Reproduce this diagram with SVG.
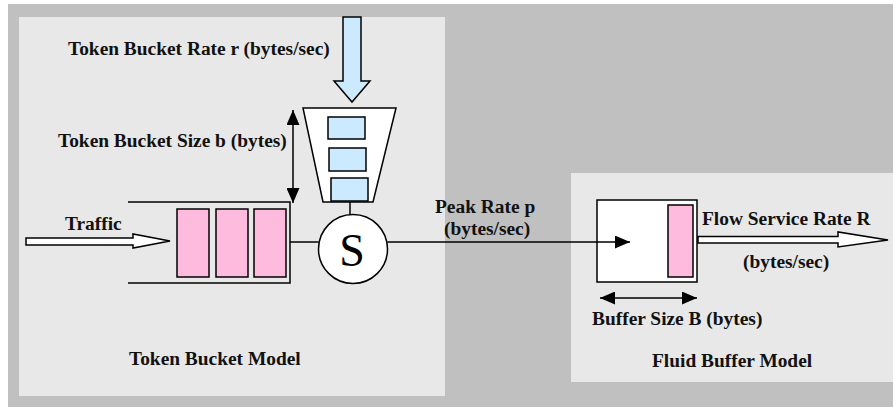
<svg xmlns="http://www.w3.org/2000/svg" width="893" height="407" viewBox="0 0 893 407">
<defs>
<style>
.t{font-family:"Liberation Serif","Times New Roman",serif;font-weight:bold;font-size:19.4px;fill:#111}
.ln{stroke:#000;stroke-width:1.5;fill:none}
.blue{fill:#cceaff;stroke:#000;stroke-width:1.5}
.pink{fill:#ffbbdd;stroke:#000;stroke-width:1.5}
.wh{fill:#fff;stroke:#000;stroke-width:1.5}
</style>
<marker id="ah" viewBox="0 0 15 13" refX="15" refY="6.5" markerWidth="15" markerHeight="13" markerUnits="userSpaceOnUse" orient="auto-start-reverse">
<path d="M0,0 L15,6.5 L0,13 Z" fill="#000"/>
</marker>
</defs>
<rect x="0" y="0" width="893" height="407" fill="#fff"/>
<rect x="8" y="4" width="885" height="403" fill="#c0c0c0"/>
<rect id="tokenPanel" x="19" y="17" width="426" height="379" fill="#e8e8e8"/>
<rect id="fluidPanel" x="571" y="173" width="322" height="209" fill="#e8e8e8"/>

<g id="rateArrow">
<path class="blue" d="M343,17 L361,17 L361,81 L370,81 L352,102 L334,81 L343,81 Z"/>
</g>
<g id="bucket">
<path class="wh" d="M303,108 L396,108 L373,202 L323,202 Z"/>
<rect class="blue" x="328" y="117" width="37" height="22"/>
<rect class="blue" x="329" y="148" width="37" height="23"/>
<rect class="blue" x="331" y="178" width="37" height="23"/>
</g>
<g id="queue">
<path class="ln" d="M128,202 L290,202 L290,283 L128,283"/>
<rect class="pink" x="177" y="209" width="32" height="68"/>
<rect class="pink" x="216" y="209" width="32" height="68"/>
<rect class="pink" x="254" y="209" width="32" height="68"/>
</g>
<g id="scheduler">
<circle class="wh" cx="353" cy="249" r="34.5"/>
<text x="352" y="266" text-anchor="middle" style="font-family:'Liberation Serif','Times New Roman',serif;font-size:46px;fill:#000">S</text>
</g>
<g id="fluidBuffer">
<rect class="wh" x="597" y="200" width="100" height="82"/>
<rect class="pink" x="668" y="205" width="25" height="72"/>
</g>
<g id="trafficArrow">
<path class="wh" d="M26,238 L133,238 L133,234 L170,241 L133,248 L133,245 L26,245 Z"/>
</g>
<g id="serviceArrow">
<path class="wh" d="M698,236.5 L838,236.5 L838,232 L888,240 L838,247 L838,243 L698,243 Z"/>
</g>

<g id="connectors">
<line class="ln" x1="350" y1="202" x2="350" y2="215"/>
<line class="ln" x1="290" y1="242" x2="318.5" y2="242"/>
<line class="ln" x1="387.5" y1="242" x2="630" y2="242" marker-end="url(#ah)"/>
<line class="ln" x1="293" y1="110" x2="293" y2="203" marker-start="url(#ah)" marker-end="url(#ah)"/>
<line class="ln" x1="600" y1="298" x2="697" y2="298" marker-start="url(#ah)" marker-end="url(#ah)"/>
</g>

<g id="labels">
<text class="t" x="68" y="55">Token Bucket Rate r (bytes/sec)</text>
<text class="t" x="58" y="147">Token Bucket Size b (bytes)</text>
<text class="t" x="65" y="230">Traffic</text>
<text class="t" x="129" y="365">Token Bucket Model</text>
<text class="t" x="435" y="213">Peak Rate p</text>
<text class="t" x="444" y="235">(bytes/sec)</text>
<text class="t" x="702" y="225">Flow Service Rate R</text>
<text class="t" x="743" y="268">(bytes/sec)</text>
<text class="t" x="592" y="325">Buffer Size B (bytes)</text>
<text class="t" x="652" y="367">Fluid Buffer Model</text>
</g>
</svg>
